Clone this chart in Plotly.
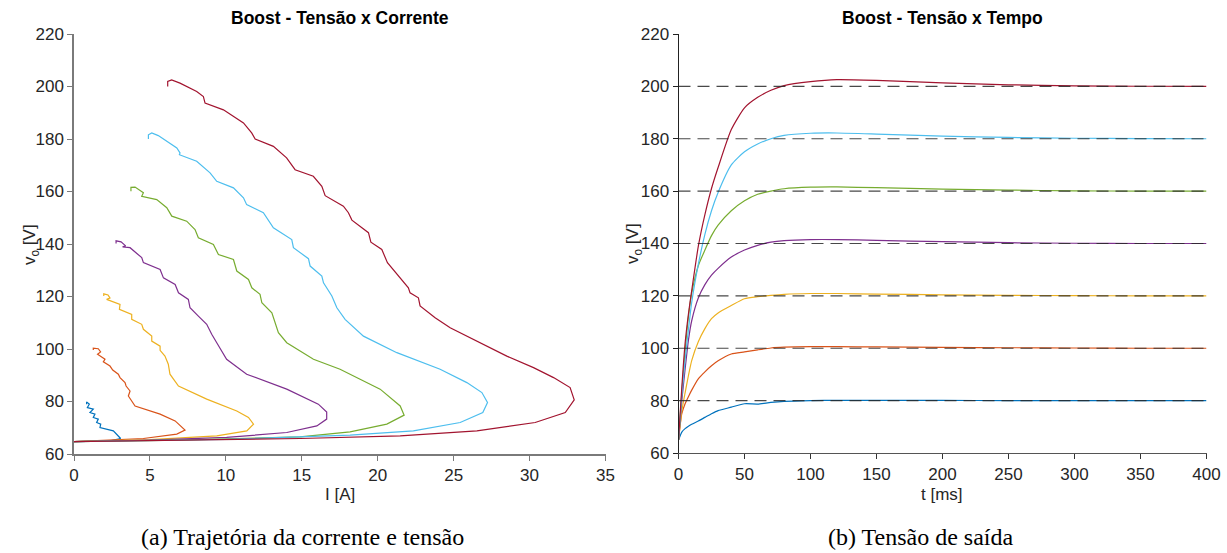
import plotly.graph_objects as go

# ---------------- data: left plot (I [A], v_o [V]) trajectories ----------------
setpoints = [80, 100, 120, 140, 160, 180, 200]
colors = ["#0072BD", "#D95319", "#EDB120", "#7E2F8E", "#77AC30", "#4DBEEE", "#A2142F"]

I_80 = [0, 2.37, 3.07, 2.59, 1.71, 1.76, 1.49, 1.6, 1.27, 1.38, 1.05, 1.27, 0.88, 1.01, 0.83, 0.83]
V_80 = [64.7, 65.0, 65.9, 68.8, 70.1, 71.4, 72.0, 73.3, 73.9, 75.2, 75.8, 77.1, 77.7, 79.0, 79.8, 79.0]

I_100 = [0, 4.57, 6.77, 7.31, 6.66, 5.67, 4.02, 3.8, 3.58, 3.69, 3.43, 3.36, 3.03, 2.92, 2.55, 2.37,
         1.93, 2.04, 1.55, 1.75, 1.6, 1.27, 1.27]
V_100 = [64.7, 65.9, 67.6, 69.1, 72.6, 75.2, 78.3, 80.2, 82.1, 84.0, 85.9, 87.2, 89.1, 90.4, 92.0, 93.5,
         95.1, 96.1, 98.0, 98.9, 100.1, 100.3, 99.6]

I_120 = [0, 5.0, 9.4, 11.38, 11.82, 11.49, 10.72, 8.74, 6.88, 6.32, 6.21, 5.99, 5.67, 5.67, 5.12, 5.12,
         4.57, 4.46, 3.8, 3.8, 2.99, 3.03, 2.15, 2.37, 2.24, 1.96, 1.96]
V_120 = [64.7, 65.5, 66.9, 68.8, 71.4, 73.9, 76.4, 80.9, 85.9, 90.4, 94.2, 97.3, 99.5, 101.1, 103.0, 104.9,
         107.5, 109.4, 111.3, 113.2, 115.1, 117.0, 118.9, 119.4, 120.6, 121.0, 120.2]

I_140 = [0, 5.0, 10.05, 14.01, 15.99, 16.64, 16.64, 16.09, 14.01, 11.37, 10.05, 9.84, 9.4, 9.07, 8.74,
         8.19, 7.64, 7.53, 6.88, 6.66, 5.89, 5.67, 4.57, 4.46, 3.69, 3.2, 3.4, 3.1, 2.77, 2.77]
V_140 = [64.7, 65.3, 66.3, 68.2, 70.7, 73.3, 76.0, 79.0, 84.7, 90.4, 96.1, 98.0, 102.4, 105.6, 109.4,
         112.5, 115.7, 118.9, 121.4, 124.6, 127.1, 130.3, 132.9, 134.8, 138.6, 138.9, 139.3, 140.8, 141.2, 140.2]

I_160 = [0, 7.0, 14.89, 18.18, 20.6, 21.74, 21.48, 20.16, 18.84, 17.52, 15.77, 14.01, 13.46, 13.03,
         12.37, 12.25, 11.71, 11.49, 10.72, 10.5, 9.51, 9.18, 8.19, 7.97, 7.42, 6.44, 6.11, 5.45, 4.46,
         4.57, 4.02, 3.75, 3.75]
V_160 = [64.7, 65.3, 66.5, 68.4, 71.4, 74.8, 78.3, 84.7, 88.5, 92.3, 96.1, 102.4, 106.2, 113.8,
         117.6, 120.8, 123.3, 126.5, 129.7, 134.1, 136.0, 139.8, 142.4, 145.5, 148.7, 150.6, 153.8, 156.9, 158.2,
         159.5, 161.7, 161.6, 160.1]

I_180 = [0, 10.0, 18.18, 22.35, 25.43, 26.92, 27.23, 26.86, 25.87, 24.11, 21.26, 19.06, 17.85, 17.31,
         16.98, 16.43, 16.32, 15.55, 15.44, 14.45, 14.34, 13.13, 12.47, 11.37, 11.16, 10.5, 9.4, 8.96,
         8.08, 6.94, 6.98, 6.77, 5.55, 5.12, 4.9, 4.9]
V_180 = [64.7, 65.6, 67.2, 68.8, 72.0, 75.8, 79.6, 83.4, 87.2, 92.3, 98.6, 104.9, 111.3, 115.7,
         120.2, 125.2, 127.8, 131.6, 134.4, 138.6, 141.7, 146.2, 151.9, 155.0, 157.6, 161.4, 163.9, 167.1,
         171.5, 174.0, 174.7, 176.6, 181.3, 182.3, 181.6, 180.0]

I_200 = [0, 8.0, 14.89, 21.48, 26.53, 30.37, 32.35, 32.94, 32.67, 31.58, 30.26, 28.5, 26.53, 24.77,
         23.78, 22.79, 22.68, 22.13, 22.02, 21.36, 20.64, 20.27, 19.55, 19.39, 18.3, 18.07, 17.74, 16.54,
         16.32, 15.76, 14.56, 14.0, 13.13, 11.93, 11.7, 11.16, 9.84, 8.63, 8.52, 8.08, 6.98, 6.43, 6.17, 6.17]
V_200 = [64.7, 65.2, 65.9, 66.9, 68.8, 72.0, 75.8, 80.6, 85.3, 89.1, 92.9, 97.3, 103.0, 108.1,
         111.9, 116.4, 119.5, 121.4, 123.3, 127.8, 132.9, 137.9, 140.7, 144.3, 149.1, 151.9, 154.4, 158.4,
         162.0, 165.8, 168.3, 172.8, 177.2, 180.0, 182.3, 186.1, 191.1, 193.7, 196.2, 198.1, 201.3, 202.5, 201.9, 200.0]

I_list = [I_80, I_100, I_120, I_140, I_160, I_180, I_200]
V_list = [V_80, V_100, V_120, V_140, V_160, V_180, V_200]

# ---------------- data: right plot (t [ms], v_o [V]) ----------------
t_ms = [0, 2.5, 5, 7.5, 10, 15, 20, 25, 30, 40, 50, 60, 70, 80, 100, 120, 150, 200, 250, 300, 350, 400]
vt_80 = [64.9, 68.0, 69.3, 70.2, 71.0, 72.2, 73.6, 75.0, 76.2, 77.5, 78.8, 78.7, 79.3, 79.7, 80.0, 80.1, 80.1, 80.1, 80.0, 80.0, 80.0, 80.0]
vt_100 = [64.9, 75.0, 78.8, 81.5, 84.0, 88.3, 91.0, 93.3, 95.2, 97.8, 98.6, 99.4, 100.1, 100.4, 100.6, 100.6, 100.5, 100.3, 100.2, 100.1, 100.0, 100.0]
vt_120 = [64.9, 76.0, 83.0, 89.5, 95.3, 102.5, 107.5, 111.3, 113.5, 116.3, 118.9, 119.7, 120.2, 120.6, 120.9, 120.9, 120.7, 120.4, 120.2, 120.1, 120.0, 120.0]
vt_140 = [64.9, 80.0, 92.0, 103.0, 110.5, 119.2, 124.3, 127.9, 130.5, 134.8, 137.5, 139.3, 140.5, 141.1, 141.5, 141.5, 141.2, 140.7, 140.3, 140.1, 140.0, 140.0]
vt_160 = [64.9, 83.0, 99.0, 112.0, 121.0, 131.5, 137.5, 143.0, 147.0, 152.5, 156.3, 158.8, 160.0, 160.9, 161.5, 161.6, 161.3, 160.8, 160.4, 160.1, 160.0, 160.0]
vt_180 = [64.9, 82.0, 95.5, 107.0, 117.5, 132.0, 143.5, 152.5, 159.5, 170.0, 175.0, 178.0, 180.0, 181.3, 182.1, 182.2, 181.8, 181.0, 180.5, 180.2, 180.05, 180.0]
vt_200 = [64.9, 85.0, 101.9, 113.0, 122.0, 138.9, 151.0, 161.0, 169.0, 183.5, 191.8, 195.8, 198.5, 200.3, 201.8, 202.6, 202.3, 201.3, 200.6, 200.2, 200.05, 200.0]
vt_list = [vt_80, vt_100, vt_120, vt_140, vt_160, vt_180, vt_200]

ref_t = [0, 400]

# x/y tick values
x1_ticks = [0, 5, 10, 15, 20, 25, 30, 35]
x2_ticks = [0, 50, 100, 150, 200, 250, 300, 350, 400]
y_ticks = [60, 80, 100, 120, 140, 160, 180, 200, 220]

# ---------------- figure ----------------
W, H = 1227, 553
fig = go.Figure()

for I, V, c in zip(I_list, V_list, colors):
    fig.add_trace(go.Scatter(x=I, y=V, mode="lines", line=dict(color=c, width=1.2),
                             xaxis="x", yaxis="y", showlegend=False, hoverinfo="skip"))

for vt, c in zip(vt_list, colors):
    fig.add_trace(go.Scatter(x=t_ms, y=vt, mode="lines", line=dict(color=c, width=1.2, shape="spline", smoothing=0.6),
                             xaxis="x2", yaxis="y2", showlegend=False, hoverinfo="skip"))

for sp in setpoints:
    fig.add_trace(go.Scatter(x=ref_t, y=[sp, sp], mode="lines",
                             line=dict(color="rgba(40,40,40,0.85)", width=1.2, dash="12px,7px"),
                             xaxis="x2", yaxis="y2", showlegend=False, hoverinfo="skip"))

def px2x(p):
    return p / W

def px2y(p):
    return 1 - p / H

tickfont = dict(family="Liberation Sans, Arial, sans-serif", size=17, color="#262626")
axis_common = dict(showgrid=False, zeroline=False, showline=True, ticks="outside", ticklen=5,
                   tickwidth=1, tickfont=tickfont, fixedrange=True, automargin=False)

fig.update_layout(
    width=W, height=H, autosize=False,
    margin=dict(l=0, r=0, t=0, b=0, autoexpand=False),
    paper_bgcolor="white", plot_bgcolor="white",
    xaxis=dict(domain=[px2x(74), px2x(605.5)], range=[0, 35], tickvals=x1_ticks,
               linecolor="#7a7a7a", tickcolor="#7a7a7a", linewidth=1.5, anchor="y", **axis_common),
    yaxis=dict(domain=[px2y(454), px2y(34)], range=[60, 220], tickvals=y_ticks,
               linecolor="#7a7a7a", tickcolor="#7a7a7a", linewidth=1.5, anchor="x", **axis_common),
    xaxis2=dict(domain=[px2x(678.5), px2x(1206.5)], range=[0, 400], tickvals=x2_ticks,
                linecolor="#555555", tickcolor="#333333", linewidth=1.3, anchor="y2", **axis_common),
    yaxis2=dict(domain=[px2y(453), px2y(34)], range=[60, 220], tickvals=y_ticks,
                linecolor="#222222", tickcolor="#222222", linewidth=1, anchor="x2", **axis_common),
)

lab_font = dict(family="Liberation Sans, Arial, sans-serif", size=17, color="#262626")
title_font = dict(family="Liberation Sans, Arial, sans-serif", size=17.5, color="#000000")
cap_font = dict(family="Liberation Serif, DejaVu Serif, serif", size=24, color="#000000")

ann = [
    dict(text="<b>Boost - Tensão x Corrente</b>", x=px2x(340), y=px2y(18), font=title_font),
    dict(text="<b>Boost - Tensão x Tempo</b>", x=px2x(942), y=px2y(18), font=title_font),
    dict(text="I [A]", x=px2x(340), y=px2y(494), font=lab_font),
    dict(text="t [ms]", x=px2x(942), y=px2y(494), font=lab_font),
    dict(text="v<sub>o</sub> [V]", x=px2x(31), y=px2y(244), font=lab_font, textangle=-90),
    dict(text="v<sub>o</sub> [V]", x=px2x(634), y=px2y(244), font=lab_font, textangle=-90),
    dict(text="(a) Trajetória da corrente e tensão", x=px2x(302), y=px2y(537), font=cap_font),
    dict(text="(b) Tensão de saída", x=px2x(920), y=px2y(537), font=cap_font),
]
for a in ann:
    fig.add_annotation(xref="paper", yref="paper", showarrow=False, xanchor="center", yanchor="middle", **a)

fig.write_html("out.html")
